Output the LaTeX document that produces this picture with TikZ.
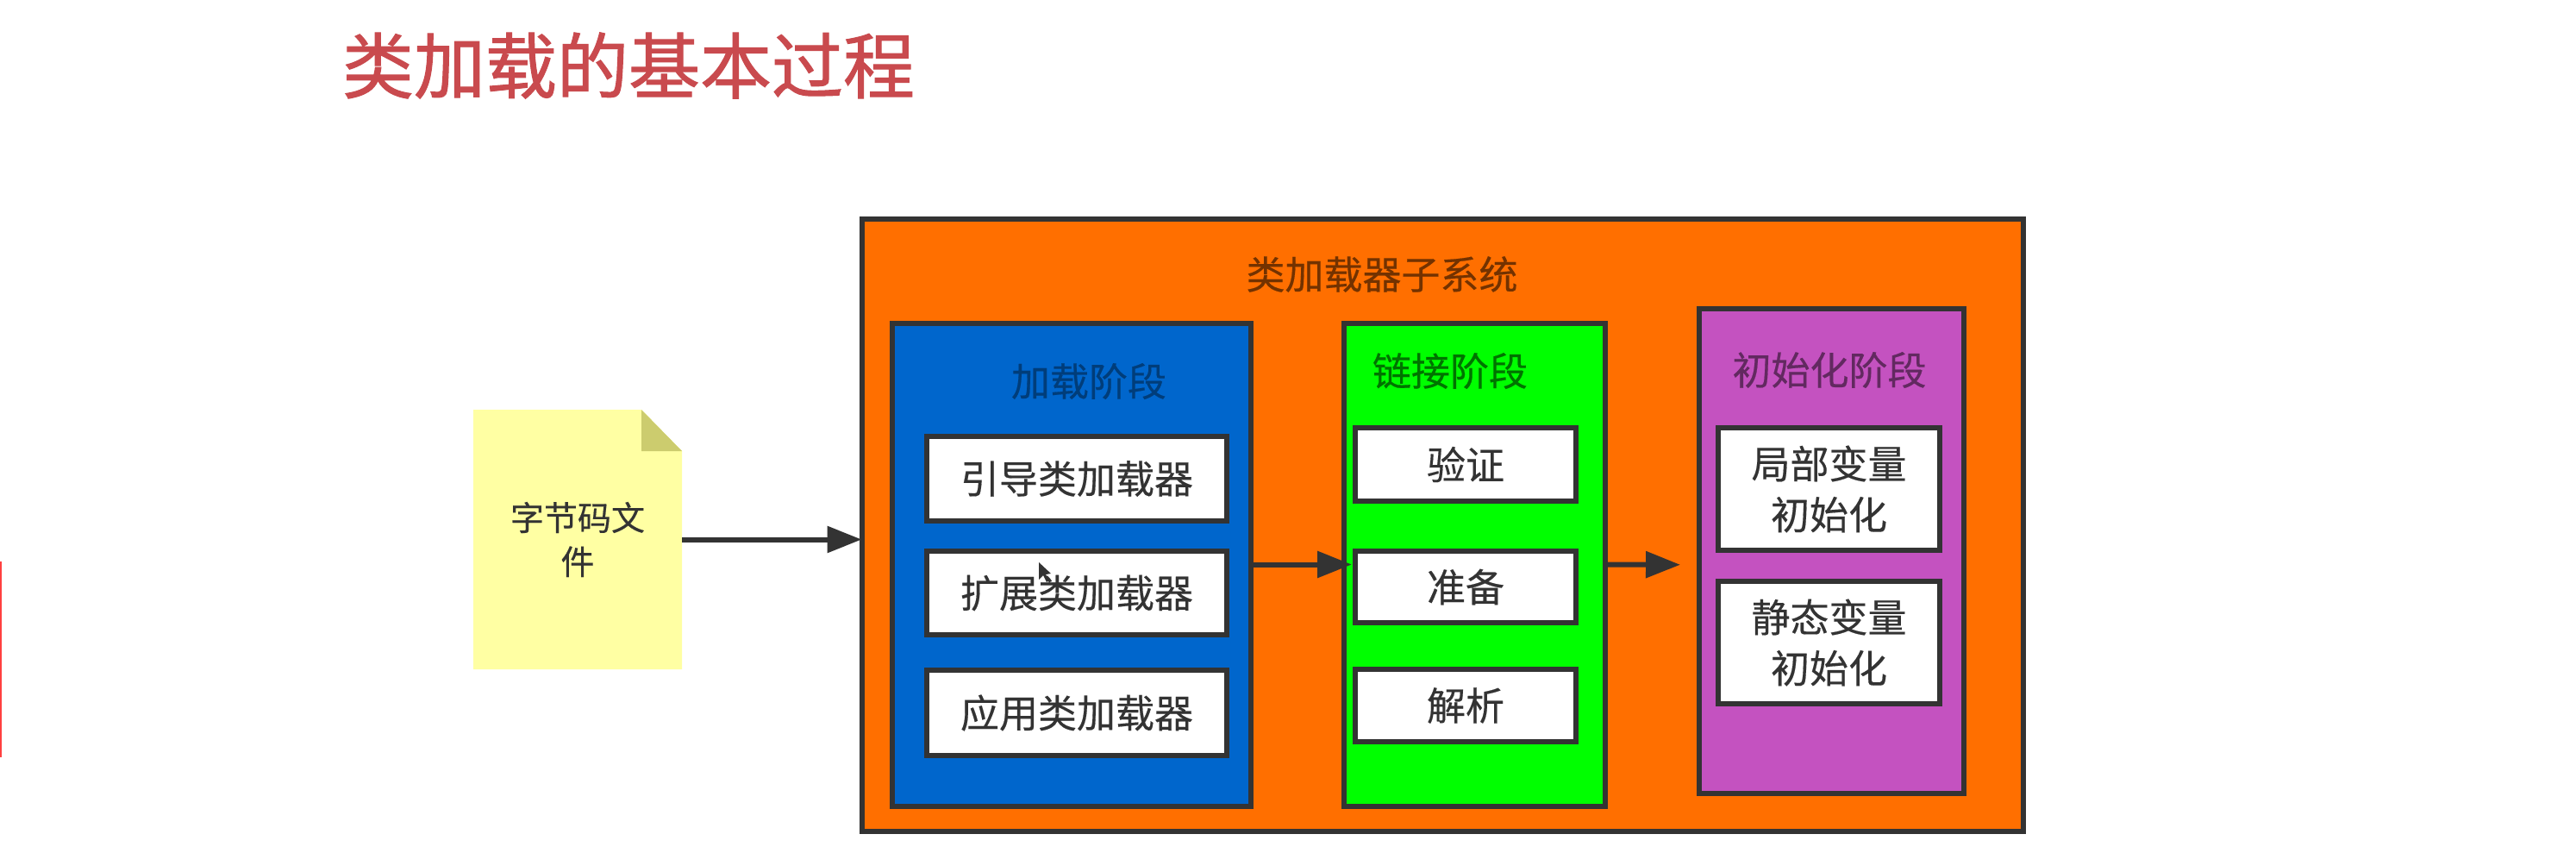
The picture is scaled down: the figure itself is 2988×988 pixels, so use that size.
\documentclass[tikz,border=0pt]{standalone}
\usepackage{fontspec}
\setmainfont[FakeBold=0.35]{Noto Sans CJK SC}
\newfontfamily\titlefont[FakeBold=1.2]{Noto Sans CJK SC}
\usetikzlibrary{arrows.meta}
\definecolor{orangeF}{HTML}{FF6F00}
\definecolor{blueF}{HTML}{0066CC}
\definecolor{greenF}{HTML}{00FF00}
\definecolor{purpleF}{HTML}{C452C0}
\definecolor{noteF}{HTML}{FFFFA3}
\definecolor{foldF}{HTML}{CCCC6E}
\definecolor{lineC}{HTML}{333333}
\definecolor{titleC}{HTML}{C94A4E}
\tikzset{
  frame/.style={draw=lineC,line width=6pt,inner sep=0pt,outer sep=0pt},
  whitebox/.style={frame,fill=white,text=lineC,align=center,font=\fontsize{45}{59}\selectfont},
  head/.style={inner sep=0pt,font=\fontsize{45}{59}\selectfont},
  flow/.style={draw=lineC,line width=6pt,-{Triangle[length=40pt,width=30pt]}}
}
\begin{document}
\begin{tikzpicture}[x=1pt,y=-1pt]
\useasboundingbox[fill=white] (0,0) rectangle (2988,988);
% stray edge mark at the left of the frame
\fill[red!75!white] (0,651) rectangle (2,878);
% title
\node[inner sep=0pt,text=titleC,font=\titlefont\fontsize{83}{90}\selectfont] (title) at (729,76) {类加载的基本过程};
% note
\fill[noteF] (549,475) -- (744,475) -- (791,523) -- (791,776) -- (549,776) -- cycle;
\fill[foldF] (744,475) -- (791,523) -- (744,523) -- cycle;
\node[inner sep=0pt,outer sep=0pt,minimum width=242pt,minimum height=301pt] (note) at (670,625.5) {};
\node[inner sep=0pt,align=center,text=lineC,font=\fontsize{39}{51}\selectfont] (notetext) at (670,625.5) {字节码文\\件};
% containers
\node[frame,fill=orangeF,minimum width=1347pt,minimum height=710pt] (outer) at (1673,609) {};
\node[head,text=orangeF!45!black] (outertext) at (1603,318) {类加载器子系统};
\node[frame,fill=blueF,minimum width=416pt,minimum height=560pt] (blue) at (1243,654.5) {};
\node[head,text=blueF!60!black] (bluetext) at (1263,442) {加载阶段};
\node[frame,fill=greenF,minimum width=303pt,minimum height=560pt] (green) at (1710.5,654.5) {};
\node[head,text=greenF!45!black] (greentext) at (1682,430) {链接阶段};
\node[frame,fill=purpleF,minimum width=307pt,minimum height=562pt] (purple) at (2124.5,639) {};
\node[head,text=purpleF!50!black] (purpletext) at (2122,429) {初始化阶段};
% loaders
\node[whitebox,minimum width=348pt,minimum height=98pt] (a1) at (1249,555) {引导类加载器};
\node[whitebox,minimum width=348pt,minimum height=97pt] (a2) at (1249,687.5) {扩展类加载器};
\node[whitebox,minimum width=348pt,minimum height=99pt] (a3) at (1249,826.5) {应用类加载器};
% linking
\node[whitebox,minimum width=256pt,minimum height=85pt] (b1) at (1700,538.5) {验证};
\node[whitebox,minimum width=256pt,minimum height=83pt] (b2) at (1700,680.5) {准备};
\node[whitebox,minimum width=256pt,minimum height=84pt] (b3) at (1700,818) {解析};
% initialisation
\node[whitebox,minimum width=257pt,minimum height=142pt] (c1) at (2121.5,567) {局部变量\\初始化};
\node[whitebox,minimum width=257pt,minimum height=142pt] (c2) at (2121.5,745) {静态变量\\初始化};
% connectors
\coordinate (freeend) at (1949,654.75);
\draw[flow] (note.east) -- (note.east -| outer.west);
\draw[flow,shorten >=-9pt] (blue.east) -- (green.west);
\draw[flow] (green.east) -- (freeend);
% mouse pointer
\fill[black!80] (1205,652) -- (1205,672) -- (1210,667) -- (1214,675) -- (1217,673) -- (1213,666) -- (1219,665) -- cycle;
\end{tikzpicture}
\end{document}
